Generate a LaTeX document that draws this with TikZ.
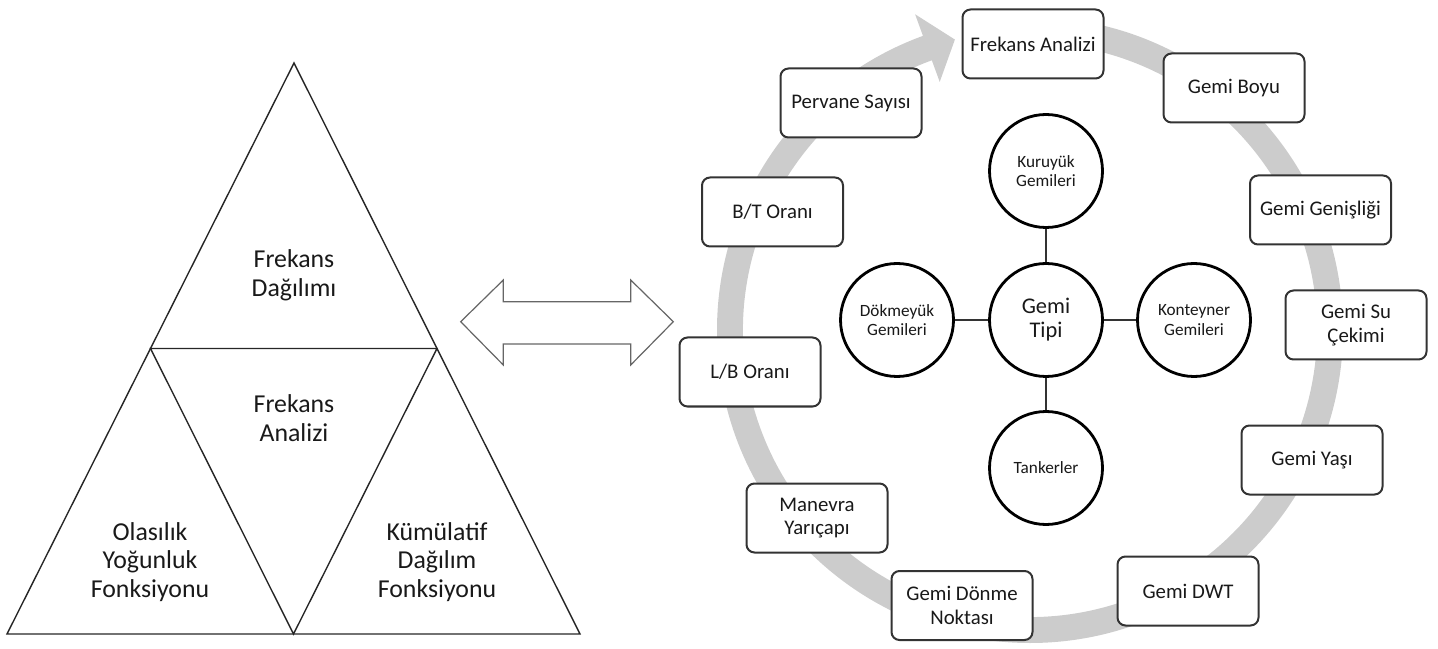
\documentclass[tikz,border=0pt]{standalone}
\usepackage{fontspec}
\setmainfont{Carlito}
\begin{document}
\begin{tikzpicture}[x=0.5pt,y=0.5pt,
	triangle/.style={line width=0.7pt,draw=black!85},
	txtgran/.style={align=center,text=black!90,font=\fontsize{12.9}{14.3}\selectfont},
	caixa/.style={draw=black!80,line width=1pt,rounded corners=4pt,fill=white,
		minimum width=70.5pt,minimum height=34.5pt,inner sep=1pt,align=center,
		text=black!90,font=\fontsize{10.4}{11.8}\selectfont},
	cercle/.style={circle,draw=black,line width=1.4pt,fill=white,minimum size=56.5pt,
		inner sep=0pt,align=center,text=black!90,font=\fontsize{8.6}{9.6}\selectfont},
	enllac/.style={line width=0.75pt,draw=black!80}]

	\useasboundingbox (0,0) rectangle (1438,648);

	% Punts del triangle
	\coordinate (A) at (7,14);
	\coordinate (B) at (580,14);
	\coordinate (C) at (294,585);
	\coordinate (AC) at (150.5,299.5);
	\coordinate (BC) at (437,299.5);
	\coordinate (AB) at (293.5,14);

	% Triangles
	\draw[triangle] (A) -- (B) -- (C) -- cycle;
	\draw[triangle] (AC) -- (BC) -- (AB) -- cycle;

	% Etiquetes del triangle
	\node[txtgran] (dag) at (294,373) {Frekans\\Dağılımı};
	\node[txtgran] (ana) at (294,230) {Frekans\\Analizi};
	\node[txtgran] (ola) at (150,86) {Olasılık\\Yoğunluk\\Fonksiyonu};
	\node[txtgran] (kum) at (437,86) {Kümülatif\\Dağılım\\Fonksiyonu};

	% Fletxa doble
	\draw[line width=0.6pt,draw=black!60,fill=white]
		(460.7,326.3) -- (503.3,368) -- (503.3,346.3) -- (630.7,346.3) -- (630.7,368)
		-- (673.3,326.3) -- (630.7,283) -- (630.7,304) -- (503.3,304) -- (503.3,283) -- cycle;

	% Anell
	\begin{scope}[shift={(1030,318)}]
		\fill[black!20] (90:313) arc[start angle=90,end angle=-250,radius=313]
			-- (-250:336) -- (-255.5:300) -- (-250:264) -- (-250:287)
			arc[start angle=-250,end angle=90,radius=287] -- cycle;
	\end{scope}

	% Caixes
	\node[caixa] (frek)  at (1033,604)   {Frekans Analizi};
	\node[caixa] (boyu)  at (1234,560)   {Gemi Boyu};
	\node[caixa] (gen)   at (1320.5,438) {Gemi Genişliği};
	\node[caixa] (suc)   at (1356,323)   {Gemi Su\\Çekimi};
	\node[caixa] (yas)   at (1312,188)   {Gemi Yaşı};
	\node[caixa] (dwt)   at (1188,57)    {Gemi DWT};
	\node[caixa] (donme) at (962,42.5)   {Gemi Dönme\\Noktası};
	\node[caixa] (man)   at (817,130)    {Manevra\\Yarıçapı};
	\node[caixa] (lb)    at (750,276)    {L/B Oranı};
	\node[caixa] (bt)    at (772.5,436)  {B/T Oranı};
	\node[caixa] (perv)  at (851,545)    {Pervane Sayısı};

	% Cercles
	\node[cercle,font=\fontsize{11.2}{12}\selectfont] (tipi) at (1046,328) {Gemi\\Tipi};
	\node[cercle] (kuru)  at (1046,477) {Kuruyük\\Gemileri};
	\node[cercle] (tank)  at (1046,180) {Tankerler};
	\node[cercle] (dokme) at (897,328)  {Dökmeyük\\Gemileri};
	\node[cercle] (kont)  at (1194,328) {Konteyner\\Gemileri};

	% Enllaços
	\draw[enllac] (tipi) -- (kuru);
	\draw[enllac] (tipi) -- (tank);
	\draw[enllac] (tipi) -- (dokme);
	\draw[enllac] (tipi) -- (kont);

\end{tikzpicture}
\end{document}
